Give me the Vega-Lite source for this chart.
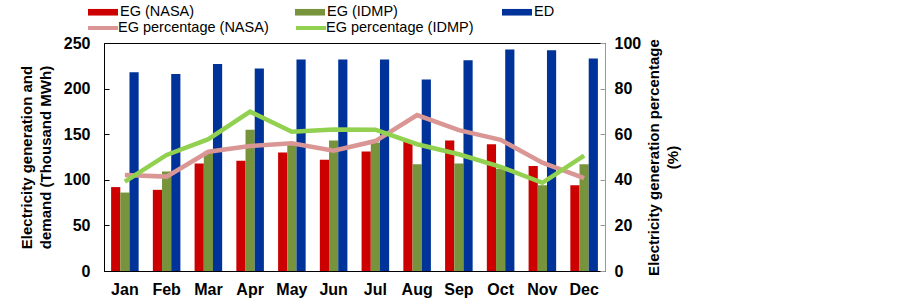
{
  "$schema": "https://vega.github.io/schema/vega-lite/v6.json",
  "autosize": {"type": "none"},
  "width": 501,
  "height": 228,
  "padding": {"left": 104, "top": 43, "right": 298, "bottom": 34},
  "background": "white",
  "config": {
    "font": "Liberation Sans",
    "view": {"stroke": "#000000", "strokeWidth": 1},
    "axis": {"grid": false, "labelFont": "Liberation Sans", "titleFont": "Liberation Sans"}
  },
  "datasets": {
    "bars": [
      {"month": "Jan", "series": "EG (NASA)", "value": 92},
      {"month": "Jan", "series": "EG (IDMP)", "value": 86},
      {"month": "Jan", "series": "ED", "value": 218},
      {"month": "Feb", "series": "EG (NASA)", "value": 89},
      {"month": "Feb", "series": "EG (IDMP)", "value": 109},
      {"month": "Feb", "series": "ED", "value": 216},
      {"month": "Mar", "series": "EG (NASA)", "value": 118},
      {"month": "Mar", "series": "EG (IDMP)", "value": 131},
      {"month": "Mar", "series": "ED", "value": 227},
      {"month": "Apr", "series": "EG (NASA)", "value": 121},
      {"month": "Apr", "series": "EG (IDMP)", "value": 155},
      {"month": "Apr", "series": "ED", "value": 222},
      {"month": "May", "series": "EG (NASA)", "value": 130},
      {"month": "May", "series": "EG (IDMP)", "value": 139},
      {"month": "May", "series": "ED", "value": 232},
      {"month": "Jun", "series": "EG (NASA)", "value": 122},
      {"month": "Jun", "series": "EG (IDMP)", "value": 143},
      {"month": "Jun", "series": "ED", "value": 232},
      {"month": "Jul", "series": "EG (NASA)", "value": 131},
      {"month": "Jul", "series": "EG (IDMP)", "value": 141},
      {"month": "Jul", "series": "ED", "value": 232},
      {"month": "Aug", "series": "EG (NASA)", "value": 142},
      {"month": "Aug", "series": "EG (IDMP)", "value": 117},
      {"month": "Aug", "series": "ED", "value": 210},
      {"month": "Sep", "series": "EG (NASA)", "value": 143},
      {"month": "Sep", "series": "EG (IDMP)", "value": 118},
      {"month": "Sep", "series": "ED", "value": 231},
      {"month": "Oct", "series": "EG (NASA)", "value": 139},
      {"month": "Oct", "series": "EG (IDMP)", "value": 112},
      {"month": "Oct", "series": "ED", "value": 243},
      {"month": "Nov", "series": "EG (NASA)", "value": 115},
      {"month": "Nov", "series": "EG (IDMP)", "value": 94},
      {"month": "Nov", "series": "ED", "value": 242},
      {"month": "Dec", "series": "EG (NASA)", "value": 94},
      {"month": "Dec", "series": "EG (IDMP)", "value": 117},
      {"month": "Dec", "series": "ED", "value": 233}
    ],
    "lines": [
      {"month": "Jan", "series": "EG percentage (NASA)", "pct": 42.1},
      {"month": "Feb", "series": "EG percentage (NASA)", "pct": 41.4},
      {"month": "Mar", "series": "EG percentage (NASA)", "pct": 52.3},
      {"month": "Apr", "series": "EG percentage (NASA)", "pct": 54.8},
      {"month": "May", "series": "EG percentage (NASA)", "pct": 56.0},
      {"month": "Jun", "series": "EG percentage (NASA)", "pct": 52.8},
      {"month": "Jul", "series": "EG percentage (NASA)", "pct": 57.0},
      {"month": "Aug", "series": "EG percentage (NASA)", "pct": 68.4},
      {"month": "Sep", "series": "EG percentage (NASA)", "pct": 61.8},
      {"month": "Oct", "series": "EG percentage (NASA)", "pct": 57.5},
      {"month": "Nov", "series": "EG percentage (NASA)", "pct": 47.5},
      {"month": "Dec", "series": "EG percentage (NASA)", "pct": 40.7},
      {"month": "Jan", "series": "EG percentage (IDMP)", "pct": 39.2},
      {"month": "Feb", "series": "EG percentage (IDMP)", "pct": 50.9},
      {"month": "Mar", "series": "EG percentage (IDMP)", "pct": 57.8},
      {"month": "Apr", "series": "EG percentage (IDMP)", "pct": 69.9},
      {"month": "May", "series": "EG percentage (IDMP)", "pct": 61.1},
      {"month": "Jun", "series": "EG percentage (IDMP)", "pct": 62.1},
      {"month": "Jul", "series": "EG percentage (IDMP)", "pct": 62.0},
      {"month": "Aug", "series": "EG percentage (IDMP)", "pct": 55.6},
      {"month": "Sep", "series": "EG percentage (IDMP)", "pct": 51.2},
      {"month": "Oct", "series": "EG percentage (IDMP)", "pct": 45.7},
      {"month": "Nov", "series": "EG percentage (IDMP)", "pct": 38.7},
      {"month": "Dec", "series": "EG percentage (IDMP)", "pct": 50.6}
    ]
  },
  "layer": [
    {
      "data": {"name": "bars"},
      "mark": {"type": "bar"},
      "encoding": {
        "x": {
          "field": "month", "type": "nominal",
          "sort": ["Jan","Feb","Mar","Apr","May","Jun","Jul","Aug","Sep","Oct","Nov","Dec"],
          "scale": {"paddingInner": 0.34, "paddingOuter": 0.17},
          "axis": {"title": null, "labelAngle": 0, "ticks": false, "domainColor": "#000000", "labelFont": "Liberation Sans", "labelFontWeight": "bold", "labelFontSize": 16, "labelColor": "#000000", "labelPadding": 10}
        },
        "xOffset": {
          "field": "series", "type": "nominal",
          "sort": ["EG (NASA)", "EG (IDMP)", "ED"],
          "scale": {"paddingInner": 0, "paddingOuter": 0}
        },
        "y": {
          "field": "value", "type": "quantitative",
          "scale": {"domain": [0, 250], "nice": false},
          "axis": {
            "values": [0, 50, 100, 150, 200, 250],
            "title": ["Electricity generation and", "demand (Thousand MWh)"],
            "titleFontSize": 15, "titleFontWeight": "bold", "titleColor": "#000000", "titleLineHeight": 19, "titlePadding": 10,
            "labelFontSize": 16, "labelFontWeight": "bold", "labelColor": "#000000", "labelPadding": 19,
            "domainColor": "#000000", "tickColor": "#000000", "tickSize": -5
          }
        },
        "color": {
          "field": "series", "type": "nominal",
          "scale": {"domain": ["EG (NASA)", "EG (IDMP)", "ED"], "range": ["#CC0000", "#77933C", "#003399"]},
          "legend": {
            "title": null, "orient": "none", "legendX": -16, "legendY": -46,
            "direction": "horizontal", "columns": 3, "gridAlign": "all", "columnPadding": 100,
            "symbolType": "M-1,-0.22H1V0.22H-1Z", "symbolSize": 900, "symbolStrokeWidth": 0, "symbolOpacity": 1,
            "labelFont": "Liberation Sans", "labelFontSize": 14.5, "labelColor": "#000000", "labelOffset": 2
          }
        }
      }
    },
    {
      "data": {"name": "lines"},
      "mark": {"type": "line", "strokeWidth": 4.5},
      "encoding": {
        "x": {
          "field": "month", "type": "nominal",
          "sort": ["Jan","Feb","Mar","Apr","May","Jun","Jul","Aug","Sep","Oct","Nov","Dec"]
        },
        "y": {
          "field": "pct", "type": "quantitative",
          "scale": {"domain": [0, 100], "nice": false},
          "axis": {
            "orient": "right",
            "values": [0, 20, 40, 60, 80, 100],
            "title": ["Electricity generation  percentage", "(%)"],
            "titleAngle": -90,
            "titleFontSize": 15, "titleFontWeight": "bold", "titleColor": "#000000", "titleLineHeight": 19, "titlePadding": 2,
            "labelFontSize": 16, "labelFontWeight": "bold", "labelColor": "#000000", "labelPadding": 14,
            "domainColor": "#999999", "tickColor": "#999999", "tickSize": -5
          }
        },
        "color": {
          "field": "series", "type": "nominal",
          "sort": ["EG percentage (NASA)", "EG percentage (IDMP)"],
          "scale": {"domain": ["EG percentage (NASA)", "EG percentage (IDMP)"], "range": ["#D99694", "#92D050"]},
          "legend": {
            "title": null, "orient": "none", "legendX": -18, "legendY": -32,
            "direction": "horizontal", "columns": 3, "gridAlign": "all", "columnPadding": 19,
            "symbolType": "stroke", "symbolSize": 900, "symbolStrokeWidth": 4,
            "labelFont": "Liberation Sans", "labelFontSize": 14.5, "labelColor": "#000000", "labelOffset": -2
          }
        }
      }
    }
  ],
  "resolve": {"scale": {"y": "independent", "color": "independent"}}
}
